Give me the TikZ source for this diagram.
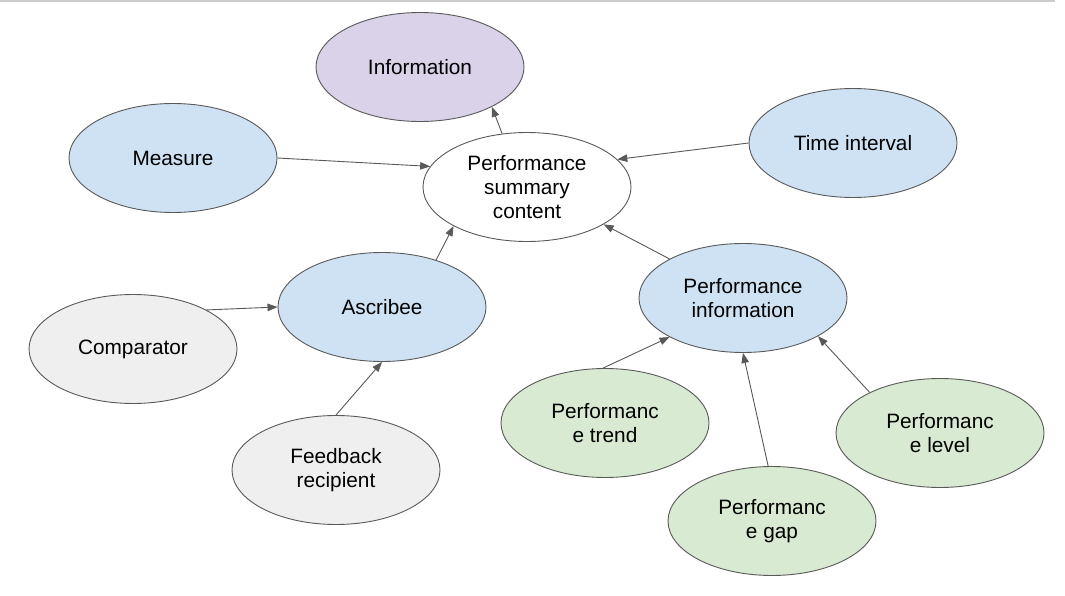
\documentclass[tikz,border=0pt]{standalone}
\usepackage{fontspec}
\setmainfont{Liberation Sans}
\usetikzlibrary{shapes.geometric,arrows.meta}
\definecolor{cblue}{HTML}{CFE2F3}
\definecolor{cpurple}{HTML}{D9D2E9}
\definecolor{cgreen}{HTML}{D9EAD3}
\definecolor{cgray}{HTML}{EFEFEF}
\definecolor{cline}{HTML}{595959}
\begin{document}
\begin{tikzpicture}[x=1pt,y=-1pt,
  bub/.style={ellipse,draw=cline,line width=0.9pt,minimum width=208pt,minimum height=109pt,inner sep=0pt,align=center,font=\fontsize{20.8}{24}\selectfont},
  con/.style={draw=cline,line width=0.9pt,-{Triangle[length=10pt,width=7.5pt]}}]
\useasboundingbox (0,0) rectangle (1065,596);
\fill[white] (0,0) rectangle (1065,596);
\draw[color=black!20,line width=2pt] (0,1) -- (1055,1);
\node[bub,fill=cpurple] (info) at (420,67) {Information};
\node[bub,fill=cblue] (meas) at (173,158) {Measure};
\node[bub,fill=cblue] (time) at (853,143) {Time interval};
\node[bub,fill=white] (psc) at (527,187) {Performance\\summary\\content};
\node[bub,fill=cblue] (asc) at (382,307) {Ascribee};
\node[bub,fill=cblue] (pi) at (743,298) {Performance\\information};
\node[bub,fill=cgray] (comp) at (133,349) {Comparator};
\node[bub,fill=cgray] (fb) at (336,470) {Feedback\\recipient};
\node[bub,fill=cgreen] (trend) at (605,423) {Performanc\\e trend};
\node[bub,fill=cgreen] (gap) at (772,521) {Performanc\\e gap};
\node[bub,fill=cgreen] (level) at (940,433) {Performanc\\e level};
\draw[con] (psc.115) -- (info.-29);
\draw[con] (meas.0) -- (psc.168.6);
\draw[con] (time.180) -- (psc.17.5);
\draw[con] (asc.41) -- (psc.208.4);
\draw[con] (pi.152.5) -- (psc.-26.9);
\draw[con] (comp.28) -- (asc.180);
\draw[con] (fb.90) -- (asc.270);
\draw[con] (trend.92) -- (pi.208.7);
\draw[con] (gap.94) -- (pi.270);
\draw[con] (level.150) -- (pi.-27.8);
\end{tikzpicture}
\end{document}
